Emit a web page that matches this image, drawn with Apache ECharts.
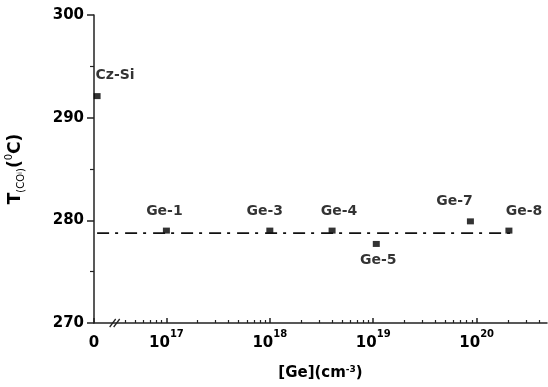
<!DOCTYPE html>
<html>
<head>
<meta charset="utf-8">
<script src="https://cdn.jsdelivr.net/npm/echarts@6/dist/echarts.min.js"></script>
<style>
  html, body { margin: 0; padding: 0; background: #fff; }
  #chart { width: 548px; height: 387px; }
</style>
</head>
<body>
<div id="chart"></div>
<script>
// sample data, [Ge] in cm^-3 (0 = Cz-Si, drawn at the axis break)
var sampleNames = ['Cz-Si', 'Ge-1', 'Ge-3', 'Ge-4', 'Ge-5', 'Ge-7', 'Ge-8'];
var geConc = [0, 1.0e17, 1.0e18, 4.0e18, 1.07e19, 8.7e19, 2.05e20];
var tempValues = [292.1, 279.0, 279.0, 279.0, 277.7, 279.9, 279.0];

// dash-dot guide line
var fitConc = [0, 2.45e20];
var fitTemp = [278.75, 278.75];

var yTicks = [270, 280, 290, 300];
var xDecades = [17, 18, 19, 20];

var X_MIN = 16.3, X_MAX = 20.68;
var FONT = 'DejaVu Sans, sans-serif';

function toX(c) {
    if (c <= 0) return X_MIN + 0.03;
    return Math.log10(c);
}

// label offsets for each sample
var labelPos = {
    'Cz-Si': ['top', [18, -6]],
    'Ge-1': ['top', [-2, -4]],
    'Ge-3': ['top', [-5, -4]],
    'Ge-4': ['top', [7, -4]],
    'Ge-5': ['bottom', [2, 1]],
    'Ge-7': ['top', [-16, -5]],
    'Ge-8': ['top', [15, -4]]
};

var points = sampleNames.map(function (n, i) {
    return {
        name: n,
        value: [toX(geConc[i]), tempValues[i]],
        label: {position: labelPos[n][0], offset: labelPos[n][1]}
    };
});

var fitLine = fitConc.map(function (c, i) {
    return [c <= 0 ? X_MIN + 0.03 : Math.log10(c), fitTemp[i]];
});

var minorTicks = [];
[16, 17, 18, 19, 20].forEach(function (n) {
    for (var k = 2; k <= 9; k++) {
        var v = n + Math.log10(k);
        if (v > 16.55 && v < X_MAX) minorTicks.push(v);
    }
});

var majorTicks = [X_MIN].concat(xDecades);

var chart = echarts.init(document.getElementById('chart'));

var option = {
    animation: false,
    textStyle: {fontFamily: FONT},
    grid: {left: 94, right: 1, top: 15, bottom: 64, outerBoundsMode: 'none', containLabel: false},
    xAxis: [
        {
            type: 'value',
            min: X_MIN,
            max: X_MAX,
            name: '[Ge](cm{u|-3})',
            nameLocation: 'middle',
            nameGap: 42,
            nameTextStyle: {
                fontSize: 15, fontWeight: 'bold', color: '#000', fontFamily: FONT,
                rich: {
                    u: {fontSize: 9, fontWeight: 'bold', color: '#000', fontFamily: FONT, verticalAlign: 'top', padding: [0, 0, 8, 0]}
                }
            },
            splitLine: {show: false},
            axisLine: {lineStyle: {color: '#222', width: 1.5}},
            axisTick: {inside: true, length: 5, customValues: majorTicks, lineStyle: {color: '#222', width: 1.5}},
            axisLabel: {
                customValues: majorTicks,
                margin: 6,
                color: '#000',
                fontSize: 15,
                fontWeight: 'bold',
                formatter: function (v) {
                    if (v < 16.5) return '{b|0}';
                    return '{b|10}{s|' + Math.round(v) + '}';
                },
                rich: {
                    b: {fontSize: 15, fontWeight: 'bold', color: '#000', fontFamily: FONT, lineHeight: 22, verticalAlign: 'bottom'},
                    s: {fontSize: 10, fontWeight: 'bold', color: '#000', fontFamily: FONT, verticalAlign: 'top', padding: [0, 0, 10, 0]}
                }
            }
        },
        {
            type: 'value',
            min: X_MIN,
            max: X_MAX,
            position: 'bottom',
            splitLine: {show: false},
            axisLine: {show: false},
            axisLabel: {show: false},
            axisTick: {inside: true, length: 3, customValues: minorTicks, lineStyle: {color: '#222', width: 1.2}}
        }
    ],
    yAxis: {
        type: 'value',
        min: 270,
        max: 300,
        interval: 10,
        name: '{t|T}{s|(CO}{ss|i}{s|)}{p|(}{u|0}{p|C)}',
        nameLocation: 'middle',
        nameRotate: 90,
        nameGap: 70,
        nameTextStyle: {
            rich: {
                t: {fontSize: 17, fontWeight: 'bold', color: '#000', fontFamily: FONT, lineHeight: 20, verticalAlign: 'bottom'},
                s: {fontSize: 10, color: '#000', fontFamily: FONT, lineHeight: 20, verticalAlign: 'bottom', padding: [0, 0, -2, 0]},
                ss: {fontSize: 7, color: '#000', fontFamily: FONT, lineHeight: 20, verticalAlign: 'bottom'},
                p: {fontSize: 17, fontWeight: 'bold', color: '#000', fontFamily: FONT, lineHeight: 20, verticalAlign: 'bottom'},
                u: {fontSize: 10, color: '#000', fontFamily: FONT, lineHeight: 10, verticalAlign: 'top'}
            }
        },
        splitLine: {show: false},
        axisLine: {show: true, lineStyle: {color: '#222', width: 1.5}},
        axisTick: {length: 7, lineStyle: {color: '#222', width: 1.5}},
        minorTick: {show: true, splitNumber: 2, length: 4, lineStyle: {color: '#222', width: 1.2}},
        axisLabel: {
            margin: 10,
            color: '#000',
            fontSize: 15,
            fontWeight: 'bold',
            formatter: function (v) { return yTicks.indexOf(v) >= 0 ? String(v) : ''; }
        }
    },
    series: [
        {
            type: 'line',
            data: fitLine,
            symbol: 'none',
            silent: true,
            lineStyle: {color: '#111', width: 1.6, type: [12, 6, 3, 7]}
        },
        {
            type: 'scatter',
            data: points,
            symbol: 'rect',
            symbolSize: [7, 6],
            itemStyle: {color: '#000'},
            label: {
                show: true,
                formatter: '{b}',
                color: '#000',
                fontSize: 14,
                fontWeight: 'bold',
                fontFamily: FONT
            }
        }
    ]
};

chart.setOption(option);

// axis break mark "//"
var bp = chart.convertToPixel({xAxisIndex: 0, yAxisIndex: 0}, [16.5, 270]);
chart.setOption({
    graphic: [
        {type: 'line', shape: {x1: bp[0] - 5, y1: bp[1] + 4, x2: bp[0] + 1, y2: bp[1] - 4}, style: {stroke: '#222', lineWidth: 1.3}},
        {type: 'line', shape: {x1: bp[0] - 1, y1: bp[1] + 4, x2: bp[0] + 5, y2: bp[1] - 4}, style: {stroke: '#222', lineWidth: 1.3}}
    ]
});
</script>
</body>
</html>
